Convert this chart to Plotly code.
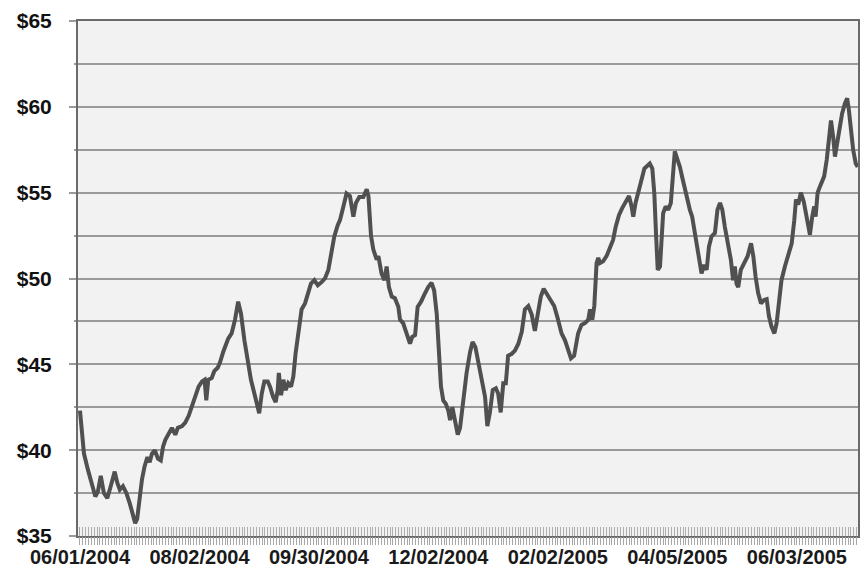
import plotly.graph_objects as go

# Trading-day number (0 = 06/01/2004) and closing price
day = [0.0, 0.5, 1.4, 2.8, 4.6, 5.4, 6.3, 7.3, 8.4, 9.6, 10.8, 12.2, 13.1, 14.0, 15.1, 16.3, 17.5, 18.6, 19.4, 20.1,
       21.0, 21.8, 22.7, 23.7, 24.5, 25.3, 26.3, 27.4, 28.4, 29.2, 30.0, 31.2, 32.3, 33.5, 34.4, 35.9, 37.0, 38.2, 39.4, 40.5,
       41.7, 42.9, 43.8, 44.4, 45.1, 46.3, 47.2, 48.4, 49.2, 50.4, 51.2, 52.1, 53.3, 54.5, 55.6, 56.6, 57.8, 58.9, 60.1, 61.3,
       62.5, 63.0, 63.9, 64.8, 66.0, 66.8, 67.9, 68.8, 69.5, 69.9, 70.7, 71.5, 72.3, 73.2, 74.2, 75.0, 75.8, 76.7, 77.9, 79.1,
       80.0, 81.2, 82.4, 83.6, 85.0, 86.1, 87.3, 88.2, 89.4, 90.6, 91.4, 92.6, 93.7, 94.9, 96.1, 97.0, 98.2, 99.6, 100.8, 101.4,
       102.3, 103.1, 104.3, 104.9, 106.0, 107.0, 107.8, 108.6, 109.6, 110.7, 111.9, 112.5, 113.6, 114.8, 116.0, 116.8, 117.8, 118.7, 119.9, 121.0,
       122.4, 123.6, 124.5, 125.4, 126.2, 126.9, 127.7, 128.6, 129.5, 130.1, 130.9, 131.8, 132.8, 133.6, 134.7, 135.9, 137.1, 138.0, 139.0, 140.0,
       141.2, 142.4, 143.2, 144.1, 145.1, 146.2, 147.0, 147.9, 148.8, 149.7, 150.5, 151.7, 152.9, 154.1, 155.3, 156.4, 157.6, 158.8, 159.9, 160.9,
       162.0, 163.0, 164.1, 165.6, 166.7, 167.9, 169.3, 170.5, 171.6, 172.6, 173.7, 175.1, 176.3, 177.5, 178.7, 179.3, 180.1, 180.8, 181.6, 182.2,
       182.8, 183.9, 185.1, 186.3, 187.4, 188.3, 189.5, 190.6, 191.8, 193.0, 193.9, 194.5, 195.3, 196.3, 197.4, 198.4, 199.5, 200.3, 201.2, 201.9,
       202.5, 203.1, 203.9, 204.5, 205.0, 205.9, 206.8, 207.7, 208.5, 209.1, 210.1, 210.9, 211.7, 212.7, 213.6, 214.4, 215.2, 216.2, 217.1, 217.9,
       218.5, 219.4, 220.3, 221.1, 222.0, 223.2, 224.1, 225.0, 225.8, 226.7, 227.8, 228.8, 229.6, 230.2, 230.8, 231.4, 232.3, 233.5, 234.7, 235.9,
       236.7, 237.5, 238.4, 239.4, 240.5, 241.4, 242.2, 243.1, 244.1, 244.9, 245.7, 246.6, 247.8, 249.0, 250.2, 251.1, 251.7, 252.5, 253.4, 254.4,
       255.1, 255.8, 256.6, 257.4, 258.1, 258.6, 259.3, 260.1, 260.8, 261.6, 262.5, 263.3, 264.0, 264.8, 265.4, 266.3, 267.1, 267.9, 268.9, 269.7,
       270.3, 271.0, 271.8, 272.7, 273.4]

price = [42.3, 41.4, 39.8, 38.85, 37.9, 37.3, 37.6, 38.5, 37.5, 37.2, 37.9, 38.75, 38.1, 37.7, 37.9, 37.5, 36.9, 36.1, 35.75, 36.0,
         37.3, 38.3, 39.05, 39.6, 39.3, 39.8, 40.0, 39.5, 39.4, 40.2, 40.6, 41.0, 41.3, 40.9, 41.3, 41.4, 41.6, 42.0, 42.55, 43.1,
         43.7, 44.0, 44.1, 42.9, 44.1, 44.2, 44.6, 44.8, 45.1, 45.75, 46.2, 46.5, 46.8, 47.6, 48.65, 47.95, 46.4, 45.25, 44.1, 43.3,
         42.5, 42.15, 43.3, 44.0, 44.0, 43.7, 43.1, 42.8, 43.5, 44.5, 43.2, 44.1, 43.5, 43.9, 43.7, 44.3, 45.65, 46.8, 48.2, 48.55,
         49.1, 49.7, 49.9, 49.6, 49.8, 50.0, 50.5, 51.5, 52.45, 53.1, 53.4, 54.2, 54.95, 54.8, 53.6, 54.4, 54.75, 54.75, 55.2, 54.8,
         52.5, 51.7, 51.1, 51.3, 50.3, 49.9, 50.7, 49.5, 48.95, 48.85, 48.35, 47.6, 47.4, 46.8, 46.2, 46.6, 46.7, 48.35, 48.65, 49.05,
         49.5, 49.75, 49.3, 47.95, 45.8, 43.7, 42.9, 42.7, 42.3, 41.75, 42.5, 41.65, 40.9, 41.3, 43.1, 44.5, 45.7, 46.3, 46.0, 45.2,
         44.3, 43.1, 41.4, 42.2, 43.5, 43.6, 43.3, 42.2, 43.9, 43.9, 45.5, 45.6, 45.8, 46.2, 46.9, 48.2, 48.4, 47.9, 46.95, 47.9,
         48.95, 49.4, 49.1, 48.75, 48.4, 47.7, 46.8, 46.4, 45.9, 45.35, 45.5, 46.8, 47.3, 47.4, 47.6, 48.2, 47.6, 48.4, 50.9, 51.2,
         50.9, 51.0, 51.3, 51.8, 52.25, 53.0, 53.7, 54.1, 54.4, 54.8, 54.2, 53.6, 54.4, 54.95, 55.75, 56.4, 56.6, 56.7, 56.4, 54.95,
         52.6, 50.5, 50.7, 52.25, 53.8, 54.2, 54.0, 54.4, 56.3, 57.4, 56.9, 56.5, 55.9, 55.15, 54.6, 54.0, 53.6, 52.6, 51.65, 50.9,
         50.3, 50.8, 50.5, 51.85, 52.45, 52.65, 54.0, 54.4, 54.0, 53.0, 52.1, 51.1, 49.9, 50.7, 49.7, 49.5, 50.5, 50.9, 51.3, 52.05,
         51.3, 50.1, 49.15, 48.55, 48.75, 48.8, 47.8, 47.2, 46.8, 47.4, 48.75, 49.9, 50.7, 51.3, 52.05, 53.4, 54.6, 54.3, 55.0, 54.5,
         53.8, 53.4, 52.55, 53.6, 54.2, 53.6, 55.0, 55.35, 55.6, 55.95, 56.9, 58.05, 59.2, 58.2, 57.1, 58.0, 58.85, 59.6, 60.2, 60.5,
         59.8, 58.45, 57.5, 56.7, 56.5]

tick_days = [0, 42, 84, 126, 168, 210, 252]
tick_labels = ["06/01/2004", "08/02/2004", "09/30/2004", "12/02/2004",
               "02/02/2005", "04/05/2005", "06/03/2005"]

y_ticks = [35, 40, 45, 50, 55, 60, 65]
y_labels = ["$" + str(v) for v in y_ticks]

fig = go.Figure()
fig.add_trace(go.Scatter(x=day, y=price, mode="lines",
                         line=dict(color="#505050", width=4), showlegend=False))
# helper invisible trace on overlaying axis for the outside tick band
fig.add_trace(go.Scatter(x=[day[0]], y=[price[0]], xaxis="x2", mode="markers",
                         marker=dict(opacity=0), showlegend=False, hoverinfo="skip"))

xr = [-0.7, 273.5]
fig.update_layout(
    width=860, height=567, autosize=False,
    margin=dict(l=78, r=2, t=21, b=31),
    paper_bgcolor="white", plot_bgcolor="#f2f2f2",
    font=dict(family="Liberation Sans, Arial, sans-serif", color="#111111"),
    xaxis=dict(range=xr, tickvals=tick_days, ticktext=tick_labels,
               showgrid=False, zeroline=False, automargin=False,
               showline=True, linecolor="#6a6a6a", linewidth=2, mirror=True,
               ticks="inside", ticklen=9, tickcolor="#a8a8a8", tickwidth=1,
               minor=dict(dtick=1, tick0=0, ticks="inside", ticklen=9, tickcolor="#b0b0b0", tickwidth=1),
               tickfont=dict(size=20, weight="bold", color="#1a1a1a"),
               ticklabelstandoff=2),
    xaxis2=dict(range=xr, overlaying="x", anchor="y", side="bottom",
                showgrid=False, zeroline=False, showline=False, showticklabels=False,
                automargin=False,
                ticks="outside", ticklen=8, tickcolor="#a8a8a8", tickwidth=1, dtick=1, tick0=0),
    yaxis=dict(range=[35, 65], tickvals=y_ticks, ticktext=y_labels,
               showgrid=True, gridcolor="#9a9a9a", gridwidth=1.5,
               zeroline=False, automargin=False,
               showline=True, linecolor="#6a6a6a", linewidth=2, mirror=True,
               ticks="outside", ticklen=7, tickcolor="#9a9a9a", tickwidth=1.5,
               minor=dict(dtick=2.5, tick0=35, showgrid=True, gridcolor="#9a9a9a", gridwidth=1.5,
                          ticks="outside", ticklen=2, tickcolor="#9a9a9a"),
               tickfont=dict(size=21, weight="bold", color="#111111"),
               ticklabelstandoff=13),
)

fig.write_html("out.html")
